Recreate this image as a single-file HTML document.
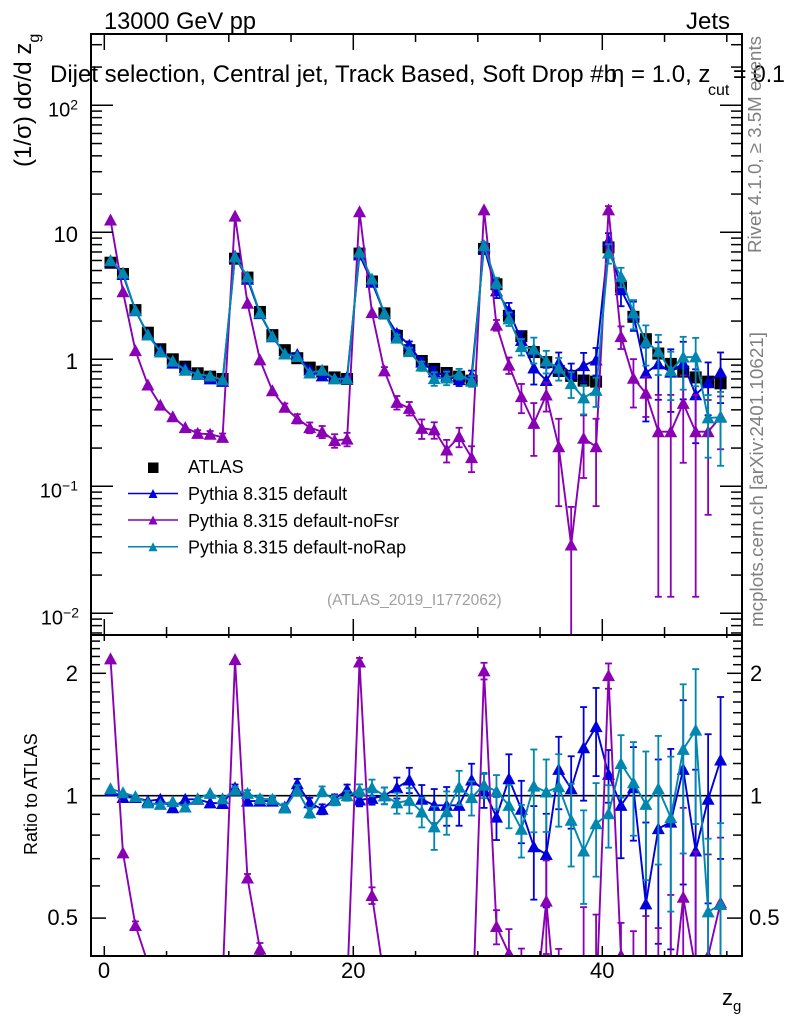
<!DOCTYPE html>
<html><head><meta charset="utf-8">
<style>
html,body{margin:0;padding:0;background:#fff;width:786px;height:1024px;overflow:hidden;}
svg{display:block;font-family:"Liberation Sans",Arial,sans-serif;}
</style></head><body>
<svg id="s" width="786" height="1024" viewBox="0 0 786 1024" xmlns="http://www.w3.org/2000/svg" overflow="hidden">
<defs>
<clipPath id="cm"><rect x="91" y="34" width="651" height="601"/></clipPath>
<clipPath id="cr"><rect x="91" y="635" width="651" height="321"/></clipPath>
</defs>
<rect width="786" height="1024" fill="#fff"/>

<text x="104" y="29" font-size="24" textLength="152" lengthAdjust="spacingAndGlyphs">13000 GeV pp</text>
<text x="730" y="29" font-size="24" text-anchor="end">Jets</text>

<g id="main" clip-path="url(#cm)"></g>
<g id="ratio" clip-path="url(#cr)"></g>
<g id="axes"></g>

<text x="50" y="82" font-size="24">Dijet selection, Central jet, Track Based, Soft Drop #b</text>
<text x="611" y="82" font-size="24">η = 1.0, z</text>
<text x="708" y="95" font-size="16">cut</text>
<text x="733" y="82" font-size="24" textLength="52" lengthAdjust="spacingAndGlyphs">= 0.1</text>

<text transform="translate(761,253) rotate(-90)" font-size="18.7" fill="#808080" textLength="217" lengthAdjust="spacingAndGlyphs">Rivet 4.1.0, ≥ 3.5M events</text>
<text transform="translate(763,627) rotate(-90)" font-size="18.8" fill="#808080" textLength="295" lengthAdjust="spacingAndGlyphs">mcplots.cern.ch [arXiv:2401.10621]</text>

<text transform="translate(31,167) rotate(-90)" font-size="24">(1/σ) dσ/d z<tspan font-size="16" dy="8">g</tspan></text>
<text transform="translate(37,855) rotate(-90)" font-size="18">Ratio to ATLAS</text>

<text x="327" y="605" font-size="15.5" fill="#a0a0a0">(ATLAS_2019_I1772062)</text>

<!-- legend -->
<rect x="148" y="462.5" width="10.5" height="10.5" fill="#000"/>
<text x="188" y="473" font-size="18">ATLAS</text>
<line x1="128" y1="493.5" x2="178" y2="493.5" stroke="#0000dd" stroke-width="1.5"/>
<polygon points="148.5,498 157.5,498 153,489" fill="#0000dd"/>
<text x="188" y="500" font-size="18">Pythia 8.315 default</text>
<line x1="128" y1="520" x2="178" y2="520" stroke="#8a00b5" stroke-width="1.5"/>
<polygon points="148.5,524.5 157.5,524.5 153,515.5" fill="#8a00b5"/>
<text x="188" y="527" font-size="18">Pythia 8.315 default-noFsr</text>
<line x1="128" y1="546.7" x2="178" y2="546.7" stroke="#0087b0" stroke-width="1.5"/>
<polygon points="148.5,551.2 157.5,551.2 153,542.2" fill="#0087b0"/>
<text x="188" y="553.5" font-size="18">Pythia 8.315 default-noRap</text>

<!-- tick labels main -->
<text x="78" y="116.5" font-size="20" text-anchor="end">10<tspan font-size="14" dy="-7">2</tspan></text>
<text x="78" y="242" font-size="22" text-anchor="end">10</text>
<text x="78" y="369" font-size="22" text-anchor="end">1</text>
<text x="78" y="497.5" font-size="20" text-anchor="end">10<tspan font-size="14" dy="-7">−1</tspan></text>
<text x="79" y="624.5" font-size="20" text-anchor="end">10<tspan font-size="14" dy="-7">−2</tspan></text>

<!-- tick labels ratio -->
<text x="78" y="681" font-size="22" text-anchor="end">2</text>
<text x="78" y="803.5" font-size="22" text-anchor="end">1</text>
<text x="78" y="925" font-size="22" text-anchor="end">0.5</text>
<text x="750" y="681" font-size="22">2</text>
<text x="750" y="803.5" font-size="22">1</text>
<text x="749" y="925" font-size="22">0.5</text>

<text x="104" y="978" font-size="22" text-anchor="middle">0</text>
<text x="353.3" y="978" font-size="22" text-anchor="middle">20</text>
<text x="602.3" y="978" font-size="22" text-anchor="middle">40</text>
<text x="722" y="1005" font-size="22">z<tspan font-size="15" dy="6">g</tspan></text>
</svg>
<script>
(function(){
const NS='http://www.w3.org/2000/svg';
function el(p,t,a){const e=document.createElementNS(NS,t);for(const k in a)e.setAttribute(k,a[k]);p.appendChild(e);return e;}
const X=v=>104.3+12.45*v;
const YM=v=>359.3-127*Math.log10(v);
const YR=v=>795.7-406.6*Math.log10(v);

const atlas=[5.76,4.7,2.44,1.62,1.2,1.0,0.875,0.776,0.73,0.70,
6.2,4.4,2.36,1.55,1.18,1.02,0.86,0.80,0.72,0.70,
6.8,4.1,2.3,1.53,1.18,0.97,0.84,0.78,0.73,0.68,
7.4,3.9,2.2,1.52,1.14,0.95,0.81,0.74,0.68,0.667,
7.6,3.73,2.16,1.44,1.11,0.92,0.80,0.72,0.667,0.647];
const rb=[1.03,0.99,0.99,0.97,0.98,0.934,0.98,0.98,0.96,0.957,
1.046,0.97,0.97,0.97,0.938,1.07,0.961,0.926,0.98,1.036,
0.976,0.985,1.0,1.046,1.093,0.98,0.947,0.947,0.947,1.093,
1.033,0.886,1.101,0.926,0.749,0.717,1.161,1.04,1.312,1.479,
1.128,0.947,1.046,0.542,0.83,0.861,1.161,0.731,0.98,1.224];
const rt=[1.04,1.017,0.995,0.96,0.952,0.967,0.938,0.983,1.013,0.983,
1.032,1.013,0.983,0.98,0.933,1.032,0.908,1.025,0.974,1.0,
1.03,1.046,1.0,0.96,0.974,0.912,0.838,0.913,1.05,0.989,
1.062,1.025,0.947,0.827,1.056,1.021,1.052,0.87,0.731,0.853,
0.903,1.199,1.076,0.952,1.04,0.883,1.3,1.45,0.518,0.54];
const pv=[12.5,3.4,1.17,0.628,0.436,0.353,0.29,0.261,0.257,0.243,
13.4,2.76,0.99,0.566,0.419,0.341,0.29,0.269,0.229,0.235,
14.5,2.33,0.81,0.458,0.411,0.286,0.278,0.193,0.246,0.168,
15.0,1.86,0.90,0.508,0.313,0.523,0.205,0.0345,0.239,0.205,
15.0,1.51,0.71,0.54,0.269,0.269,0.45,0.269,0.269,0.353];
const eb=[0.004,0.004,0.004,0.004,0.004,0.004,0.004,0.004,0.004,0.004,
0.008,0.008,0.008,0.008,0.008,0.012,0.012,0.012,0.012,0.012,
0.015,0.015,0.02,0.025,0.03,0.035,0.04,0.045,0.045,0.04,
0.04,0.05,0.06,0.07,0.1,0.1,0.08,0.08,0.1,0.095,
0.06,0.1,0.1,0.2,0.17,0.18,0.17,0.2,0.16,0.155];
const et=[0.004,0.004,0.004,0.004,0.004,0.004,0.004,0.004,0.004,0.004,
0.008,0.008,0.008,0.008,0.01,0.012,0.012,0.012,0.012,0.012,
0.015,0.02,0.02,0.025,0.03,0.035,0.05,0.05,0.04,0.04,
0.03,0.04,0.05,0.06,0.09,0.08,0.08,0.09,0.1,0.1,
0.07,0.07,0.1,0.13,0.13,0.15,0.16,0.15,0.18,0.2];
const ep=[0.005,0.005,0.01,0.012,0.015,0.02,0.02,0.025,0.025,0.03,
0.005,0.01,0.015,0.02,0.03,0.035,0.04,0.045,0.05,0.05,
0.01,0.02,0.03,0.05,0.05,0.07,0.06,0.08,0.07,0.09,
0.02,0.04,0.06,0.1,0.16,0.1,0.22,0.3,0.18,0.22,
0.03,0.08,0.15,0.13,0.29,0.29,0.22,0.29,0.25,0.16];

const blue='#0000dd', purp='#8a00b5', teal='#0087b0';
const bv=atlas.map((a,i)=>a*rb[i]);
const tv=atlas.map((a,i)=>a*rt[i]);
const pr=pv.map((p,i)=>p/atlas[i]);

function series(g,vals,errs,Y,color,marker,ybot){
  const yl=ybot+2;
  const P=vals.map((v,i)=>[X(i+0.5),Y(v)]);
  if(marker!=='sq'){
    let d='';
    for(let i=0;i<P.length-1;i++){
      let x1=P[i][0],y1=P[i][1],x2=P[i+1][0],y2=P[i+1][1];
      if(y1>yl&&y2>yl) continue;
      if(y1>yl){x1=x1+(x2-x1)*(yl-y1)/(y2-y1);y1=yl;}
      if(y2>yl){x2=x1+(x2-x1)*(yl-y1)/(y2-y1);y2=yl;}
      d+='M'+x1.toFixed(2)+' '+y1.toFixed(2)+'L'+x2.toFixed(2)+' '+y2.toFixed(2);
    }
    el(g,'path',{d:d,fill:'none',stroke:color,'stroke-width':1.9,'stroke-linejoin':'round','stroke-linecap':'round'});
  }
  vals.forEach((v,i)=>{
    const e=errs?errs[i]:0; const x=X(i+0.5);
    if(e){
      const s=v*(Math.pow(10,e)-1); const up=v+s, lo=v-s;
      const y1=Y(up);
      if(y1<yl){
        const y2=lo>0?Math.min(Y(lo),yl):yl;
        el(g,'line',{x1:x,y1:y1,x2:x,y2:y2,stroke:color,'stroke-width':1.8});
        if(Math.abs(y2-y1)>6){
          el(g,'line',{x1:x-3.5,y1:y1,x2:x+3.5,y2:y1,stroke:color,'stroke-width':1.8});
          if(lo>0&&Y(lo)<yl) el(g,'line',{x1:x-3.5,y1:y2,x2:x+3.5,y2:y2,stroke:color,'stroke-width':1.8});
        }
      }
    }
    const y=Y(v);
    if(y>ybot+8) return;
    if(marker==='sq'){
      el(g,'rect',{x:x-6,y:y-6,width:12,height:12,fill:'#000'});
    } else {
      el(g,'polygon',{points:(x-6.5)+','+(y+5.5)+' '+(x+6.5)+','+(y+5.5)+' '+x+','+(y-6.5),fill:color});
    }
  });
}
const gm=document.getElementById('main');
series(gm,atlas,null,YM,'#000','sq',635);
series(gm,bv,eb,YM,blue,'tri',635);
series(gm,pv,ep,YM,purp,'tri',635);
series(gm,tv,et,YM,teal,'tri',635);

const gr=document.getElementById('ratio');
el(gr,'line',{x1:91,y1:YR(1),x2:742,y2:YR(1),stroke:'#000','stroke-width':1.7});
series(gr,rb,eb,YR,blue,'tri',956);
series(gr,pr,ep,YR,purp,'tri',956);
series(gr,rt,et,YR,teal,'tri',956);

const ga=document.getElementById('axes');
function ln(x1,y1,x2,y2,w){el(ga,'line',{x1:x1,y1:y1,x2:x2,y2:y2,stroke:'#000','stroke-width':w||1.5});}
for(let d=-3;d<=2;d++){for(let m=1;m<=9;m++){const v=m*Math.pow(10,d);const y=YM(v);if(y<35||y>634)continue;const L=m===1?22:11;ln(91,y,91+L,y);ln(742-L,y,742,y);}}
for(let k=4;k<=25;k++){const v=k/10;const y=YR(v);if(y<636||y>955)continue;const L=(k===5||k===10||k===20)?15:9;ln(91,y,91+L,y);ln(742-L,y,742,y);}
for(let v=0;v<=50;v+=5){const x=X(v);const maj=v%20===0;
  ln(x,34,x,34+(maj?16:8));ln(x,635,x,635-(maj?16:8));
  ln(x,635,x,635+(maj?6:3));ln(x,956,x,956-(maj?10:5));}
el(ga,'rect',{x:91,y:34,width:651,height:601,fill:'none',stroke:'#000','stroke-width':2});
el(ga,'rect',{x:91,y:635,width:651,height:321,fill:'none',stroke:'#000','stroke-width':2});
})();
</script>
</body></html>
